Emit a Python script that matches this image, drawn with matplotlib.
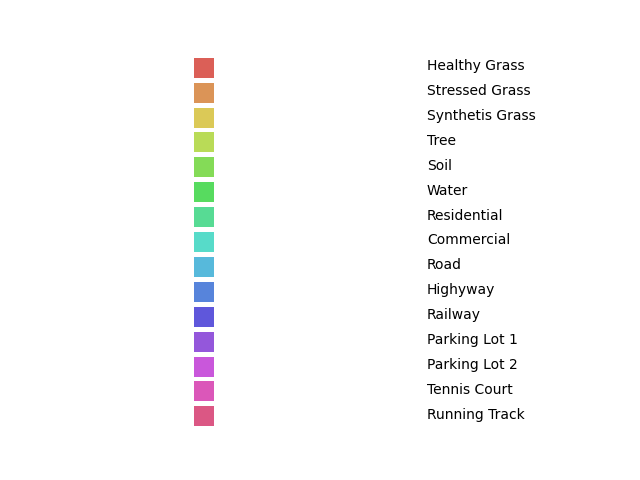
import matplotlib
matplotlib.use("Agg")
import matplotlib.pyplot as plt
import seaborn as sns

labels = ["Healthy Grass", "Stressed Grass", "Synthetis Grass", "Tree", "Soil",
          "Water", "Residential", "Commercial", "Road", "Highyway", "Railway",
          "Parking Lot 1", "Parking Lot 2", "Tennis Court", "Running Track"]
colors = sns.color_palette("hls", len(labels))

fig = plt.figure(figsize=(6.4, 4.8), dpi=100)
ax = fig.add_axes([0, 0, 1, 1])

pitch = 24.9   # px per item
sq = 20.0      # px square size
y = list(range(len(labels)))
ax.barh(y, 1, left=0, height=sq / pitch, color=colors, align="center")
for i, lab in enumerate(labels):
    ax.text((427 - 194) / sq, i - 1.5 / pitch, lab, va="center", ha="left", fontsize=10)

x0 = -194 / sq
ax.set_xlim(x0, x0 + 640 / sq)
ytop = -(67.7) / pitch
ax.set_ylim(ytop + 480 / pitch, ytop)
ax.axis("off")
fig.savefig("out.png", dpi=100)
